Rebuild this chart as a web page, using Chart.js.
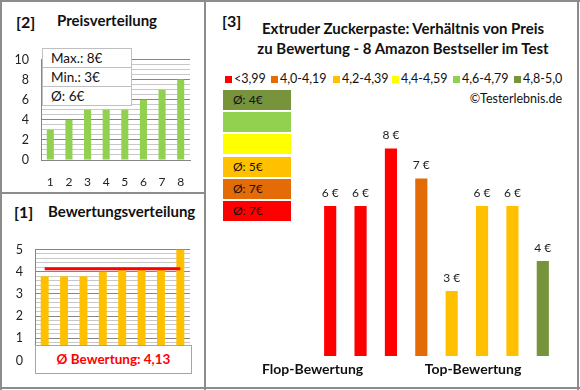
<!DOCTYPE html>
<html>
<head>
<meta charset="utf-8">
<script src="https://cdn.jsdelivr.net/npm/chart.js@4"></script>
<style>
  body { margin: 0; background: #fff; font-family: Lato, sans-serif; color: #111; }
  #wrap { position: relative; width: 580px; height: 390px; overflow: hidden; }
  .abs { position: absolute; }
  canvas.abs { display: block; }
  .line { position: absolute; background: #8c8c8c; }
  .title { position: absolute; font-weight: bold; font-size: 15px; white-space: nowrap; line-height: 1; }
  .axtitle { position: absolute; font-weight: bold; font-size: 14px; white-space: nowrap; line-height: 1; }
  .num { position: absolute; font-weight: bold; font-size: 16px; line-height: 1; }
  .infobox { position: absolute; left: 42px; top: 48px; width: 88px; background: #fff; border: 1px solid #c0c0c0; z-index: 2; }
  .infobox div { height: 18px; line-height: 18px; padding-left: 8px; font-size: 13.5px; border-bottom: 1px solid #c0c0c0; }
  .infobox div:last-child { border-bottom: none; }
  #avgbox { position: absolute; left: 35px; top: 345px; width: 155px; height: 27px; background: #fff; border: 1px solid #a6a6a6; z-index: 2;
    color: #ff0000; font-weight: bold; font-size: 13.5px; text-align: center; line-height: 27px; }
  .sw { position: absolute; top: 76px; width: 7px; height: 7px; }
  .it { position: absolute; top: 72px; font-size: 12.5px; line-height: 14px; white-space: nowrap; }
  .grp { position: absolute; left: 223px; width: 68px; height: 20px; line-height: 20px; font-size: 12px; padding-left: 10px; box-sizing: border-box; }
</style>
</head>
<body>
<div id="wrap">
  <div class="line" style="left:0;top:0;width:580px;height:2px"></div>
  <div class="line" style="left:0;top:387px;width:580px;height:2px"></div>
  <div class="line" style="left:0;top:0;width:2px;height:390px"></div>
  <div class="line" style="left:577px;top:0;width:2px;height:390px"></div>
  <div class="line" style="left:204px;top:0;width:2px;height:390px"></div>
  <div class="line" style="left:0;top:192px;width:205px;height:2px"></div>

  <div class="num" style="left:16px;top:14px">[2]</div>
  <div class="title" style="left:57px;top:13px">Preisverteilung</div>
  <div class="infobox" id="infobox"></div>
  <canvas class="abs" id="priceChart" style="left:0;top:40px" width="192" height="150"></canvas>

  <div class="num" style="left:14px;top:204px">[1]</div>
  <div class="title" style="left:48px;top:204px">Bewertungsverteilung</div>
  <canvas class="abs" id="ratingChart" style="left:0;top:230px" width="194" height="150"></canvas>
  <div id="avgbox"></div>

  <div class="num" style="left:222px;top:13px">[3]</div>
  <div class="title" style="left:220px;top:18px;width:366px;text-align:center;line-height:20px">Extruder Zuckerpaste: Verhältnis von Preis<br>zu Bewertung - 8 Amazon Bestseller im Test</div>
  <div id="legend"></div>
  <div class="abs" style="right:18px;top:91px;font-size:12.5px">©Testerlebnis.de</div>
  <div id="groups"></div>
  <canvas class="abs" id="testChart" style="left:310px;top:100px" width="255" height="265"></canvas>
  <div class="axtitle" style="left:262px;top:362px;width:100px;text-align:center">Flop-Bewertung</div>
  <div class="axtitle" style="left:423px;top:362px;width:100px;text-align:center">Top-Bewertung</div>
</div>

<script>
// panel [2]
const priceCategories = ["1", "2", "3", "4", "5", "6", "7", "8"];
const priceValues = [3, 4, 5, 5, 5, 6, 7, 8];
const priceInfo = ["Max.: 8€", "Min.: 3€", "Ø: 6€"];

// panel [1]
const ratingValues = [3.8, 3.8, 3.8, 4.0, 4.2, 4.2, 4.2, 5.0];
const ratingAverage = 4.13;
const ratingAverageText = "Ø Bewertung: 4,13";

// panel [3]
const testCategories = ["1", "2", "3", "4", "5", "6", "7", "8"];
const testPrices = [6.0, 6.0, 8.3, 7.1, 2.6, 6.0, 6.0, 3.8];
const testColors = ["#ff0000", "#ff0000", "#ff0000", "#e36c09", "#ffc000", "#ffc000", "#ffc000", "#77933c"];
const legendLabels = ["<3,99", "4,0-4,19", "4,2-4,39", "4,4-4,59", "4,6-4,79", "4,8-5,0"];
const legendColors = ["#ff0000", "#e36c09", "#ffc000", "#ffff00", "#92d050", "#77933c"];
// top to bottom: 4,8-5,0 ... <3,99
const groupAverages = ["Ø: 4€", "", "", "Ø: 5€", "Ø: 7€", "Ø: 7€"];

Chart.defaults.font.family = "Lato, sans-serif";
Chart.defaults.color = "#222";
Chart.defaults.animation = false;

const isWhole = (v, step) => Math.abs(v / step - Math.round(v / step)) < 1e-6;

// html bits
document.getElementById("infobox").innerHTML = priceInfo.map((t) => `<div>${t}</div>`).join("");
document.getElementById("avgbox").textContent = ratingAverageText;

// legend item x positions (layout only)
const legendX = [225, 271, 333, 392, 453, 514];
const legend = document.getElementById("legend");
legendLabels.forEach((l, i) => {
  legend.innerHTML +=
    `<span class="sw" style="left:${legendX[i]}px;background:${legendColors[i]}"></span>` +
    `<span class="it" style="left:${legendX[i] + 9}px">${l}</span>`;
});

const groups = document.getElementById("groups");
const groupColors = legendColors.slice().reverse();
groupAverages.forEach((t, i) => {
  const d = document.createElement("div");
  d.className = "grp";
  d.style.top = 90 + i * 22.2 + "px";
  d.style.background = groupColors[i];
  d.textContent = t;
  groups.appendChild(d);
});

// [2] Preisverteilung
new Chart(document.getElementById("priceChart"), {
  type: "bar",
  data: {
    labels: priceCategories,
    datasets: [{ data: priceValues, backgroundColor: "#92d050", categoryPercentage: 1, barPercentage: 0.38 }],
  },
  options: {
    responsive: false,
    layout: { padding: { top: 8, right: 2 } },
    plugins: { legend: { display: false }, tooltip: { enabled: false } },
    scales: {
      x: {
        grid: { display: false },
        border: { color: "#868686" },
        ticks: { padding: 7, font: { size: 12 } },
        afterFit: (s) => { s.height = 30; },
      },
      y: {
        min: 0,
        max: 10,
        ticks: {
          stepSize: 0.5,
          autoSkip: false,
          padding: 12,
          font: { size: 12.5 },
          callback: (v) => (isWhole(v, 2) ? v : ""),
        },
        grid: {
          drawTicks: false,
          color: (c) => (isWhole(c.tick.value, 2) ? "#868686" : "#c8c8c8"),
        },
        border: { color: "#868686" },
        afterFit: (s) => { s.width = 41; },
      },
    },
  },
});

// [1] Bewertungsverteilung
new Chart(document.getElementById("ratingChart"), {
  type: "bar",
  data: {
    labels: priceCategories,
    datasets: [
      {
        type: "line",
        data: ratingValues.map(() => ratingAverage),
        borderColor: "#ff0000",
        borderWidth: 3,
        pointRadius: 0,
        order: 0,
      },
      { data: ratingValues, backgroundColor: "#ffc000", categoryPercentage: 1, barPercentage: 0.41, order: 1 },
    ],
  },
  options: {
    responsive: false,
    layout: { padding: { top: 8, bottom: 6, right: 4 } },
    plugins: { legend: { display: false }, tooltip: { enabled: false } },
    scales: {
      x: { display: false },
      y: {
        min: 0,
        max: 5,
        ticks: {
          stepSize: 0.2,
          autoSkip: false,
          padding: 12,
          font: { size: 12.5 },
          callback: (v) => (isWhole(v, 1) ? Math.round(v) : ""),
        },
        grid: {
          drawTicks: false,
          color: (c) => (isWhole(c.tick.value, 1) ? "#868686" : "#c8c8c8"),
        },
        border: { color: "#868686" },
        afterFit: (s) => { s.width = 35; },
      },
    },
  },
});

// [3] Preis zu Bewertung
const valueLabels = {
  id: "valueLabels",
  afterDatasetsDraw(chart) {
    const ctx = chart.ctx;
    const meta = chart.getDatasetMeta(0);
    ctx.save();
    ctx.font = "12px Lato, sans-serif";
    ctx.fillStyle = "#222";
    ctx.textAlign = "center";
    ctx.textBaseline = "middle";
    meta.data.forEach((bar, i) => {
      ctx.fillText(Math.round(testPrices[i]) + " €", bar.x, bar.y - 13);
    });
    ctx.restore();
  },
};

new Chart(document.getElementById("testChart"), {
  type: "bar",
  data: {
    labels: testCategories,
    datasets: [{ data: testPrices, backgroundColor: testColors, categoryPercentage: 1, barPercentage: 0.4 }],
  },
  options: {
    responsive: false,
    layout: { padding: { left: 5, right: 7, top: 6, bottom: 9 } },
    plugins: { legend: { display: false }, tooltip: { enabled: false } },
    scales: {
      x: { display: false },
      y: { display: false, min: 0, max: 10 },
    },
  },
  plugins: [valueLabels],
});
</script>
</body>
</html>
